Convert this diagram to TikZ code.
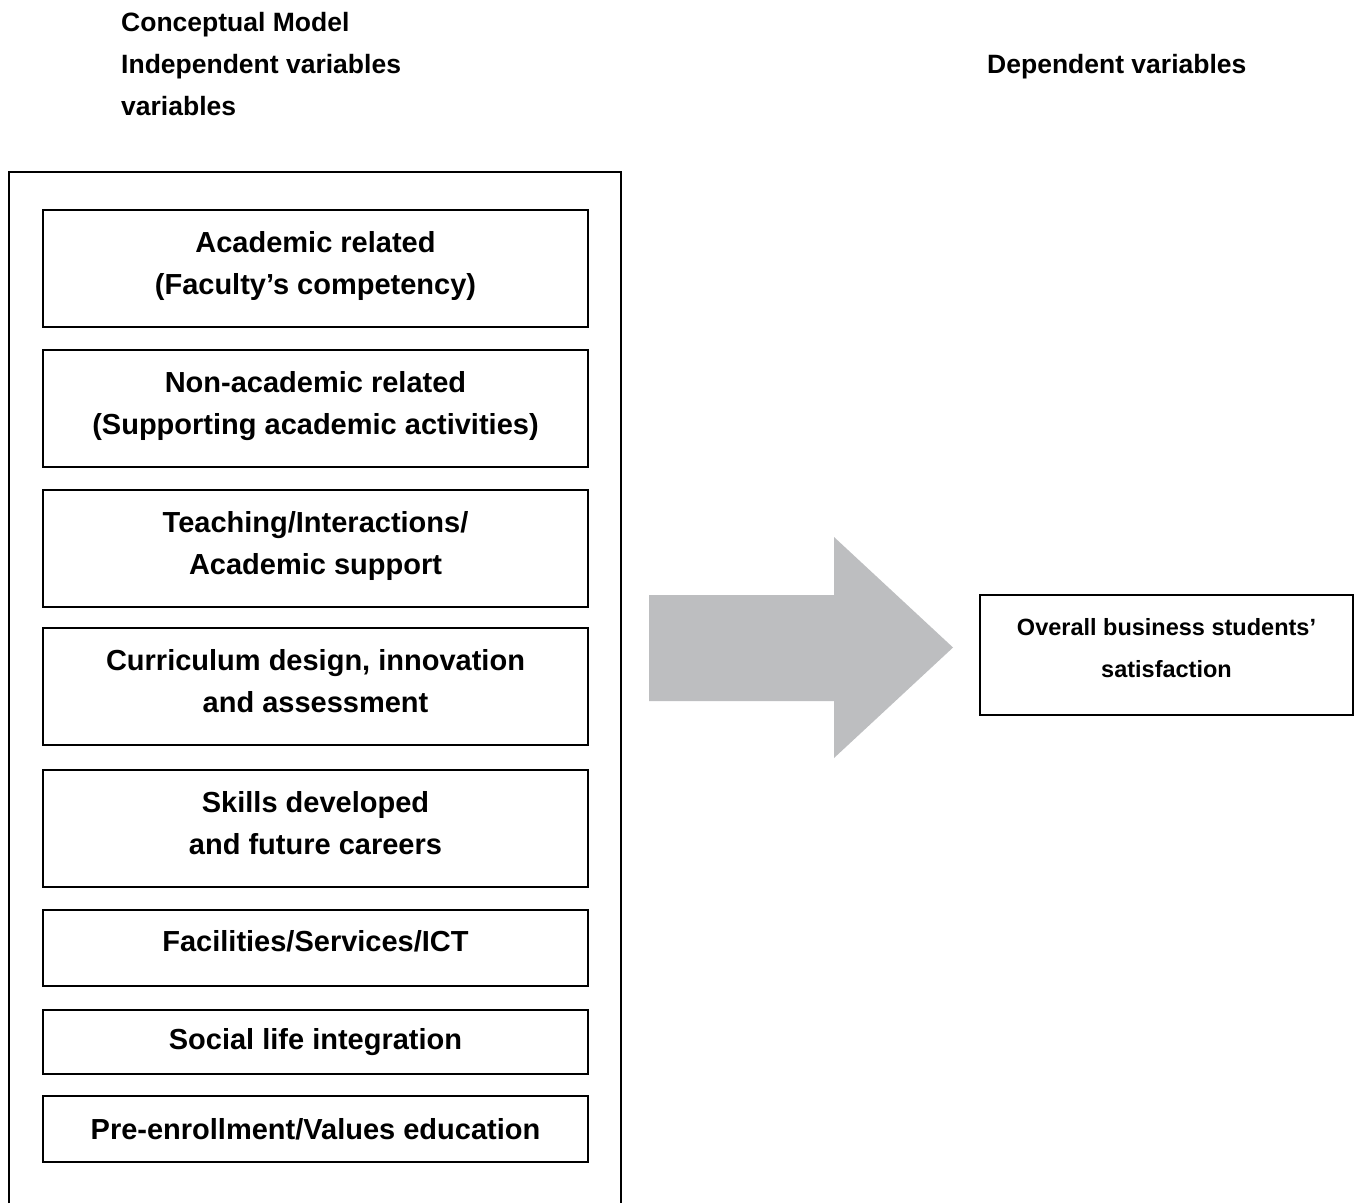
\documentclass[tikz,border=0pt]{standalone}
\usepackage{fontspec}
\setmainfont{Liberation Sans}
\definecolor{arrowgray}{RGB}{189,190,192}
\begin{document}
\begin{tikzpicture}[x=1pt,y=-1pt,
  factor/.style={draw, line width=2.2pt, minimum width=545pt, inner sep=0pt, align=center,
    font=\fontsize{29}{42}\selectfont\bfseries},
  raised/.style={text depth=12pt},
  heading/.style={anchor=base west, inner sep=0pt, font=\fontsize{26.5}{32}\selectfont\bfseries},
  outcomebox/.style={draw, line width=2.2pt, minimum width=373pt, minimum height=120pt, inner sep=0pt},
  outcometext/.style={align=center, inner sep=0pt, font=\fontsize{23.5}{42}\selectfont\bfseries}]
\useasboundingbox (0,0) rectangle (1356,1203);
\fill[white] (0,0) rectangle (1356,1203);

% headings
\node[heading] (h1) at (121,31) {Conceptual Model};
\node[heading] (h2) at (121,73) {Independent variables};
\node[heading] (h3) at (121,115) {variables};
\node[heading] (h4) at (987,73) {Dependent variables};

% outer frame (open at bottom)
\coordinate (fbl) at (9,1203);
\coordinate (ftl) at (9,172);
\coordinate (ftr) at (621,172);
\coordinate (fbr) at (621,1203);
\draw[line width=2.2pt] (fbl) -- (ftl) -- (ftr) -- (fbr);

% factor boxes
\node[factor, raised, minimum height=117pt] (b1) at (315.5,268.5) {Academic related\\(Faculty’s competency)};
\node[factor, raised, minimum height=117pt] (b2) at (315.5,408.5) {Non-academic related\\(Supporting academic activities)};
\node[factor, raised, minimum height=117pt] (b3) at (315.5,548.5) {Teaching/Interactions/\\Academic support};
\node[factor, raised, minimum height=117pt] (b4) at (315.5,686.5) {Curriculum design, innovation\\and assessment};
\node[factor, raised, minimum height=117pt] (b5) at (315.5,828.5) {Skills developed\\and future careers};
\node[factor, text depth=15pt, minimum height=76pt] (b6) at (315.5,948) {Facilities/Services/ICT};
\node[factor, minimum height=64pt] (b7) at (315.5,1042) {Social life integration};
\node[factor, minimum height=66pt] (b8) at (315.5,1129) {Pre-enrollment/Values education};

% big arrow
\fill[arrowgray] (649,595) -- (834,595) -- (834,537) -- (953,647.5) -- (834,758) -- (834,701) -- (649,701) -- cycle;

% outcome
\node[outcomebox] (out) at (1166.5,655) {};
\node[outcometext] (outtext) at (1166.5,648) {Overall business students’\\satisfaction};
\end{tikzpicture}
\end{document}
